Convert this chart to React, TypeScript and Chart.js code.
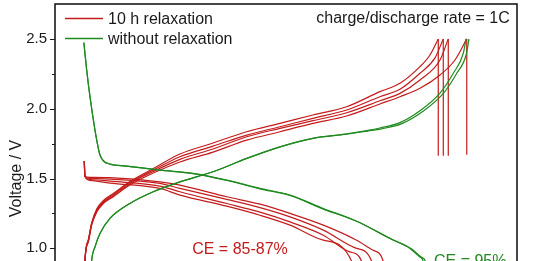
import React, { useEffect, useRef } from "react";
import { Chart, registerables } from "chart.js";

Chart.register(...registerables);

const RED = "#c41c1c";
const GREEN = "#1f8a1f";
const TEXT = "#1a1a1a";

// y axis ticks (V)
const majorTicks = [0.5, 1.0, 1.5, 2.0, 2.5];
const minorTicks = [0.75, 1.25, 1.75, 2.25];

// legend / annotations
const legendLabels = ["10 h relaxation", "without relaxation"];
const rateNote = "charge/discharge rate = 1C";
const ceRed = "CE = 85-87%";
const ceGreen = "CE = 95%";

// ---- 10 h relaxation: charge curves (capacity, voltage)
const redChgCap = [0.2, 0.57, 2.29, 4.05, 6.65, 10.08, 15.27, 23.9, 36.05, 49.9, 67.1, 84.6, 101.9, 119.0, 136.5, 153.8, 164.2, 174.6];
const redChg1End = [179.8, 184.1];
const redChg2End = [182.4, 186.7];
const redChg3End = [185.0, 189.3];
const redChg4End = [185.0, 192.8, 198.9];
const redChg1V = [0.70, 0.915, 1.058, 1.180, 1.281, 1.342, 1.392, 1.478, 1.571, 1.675, 1.754, 1.835, 1.895, 1.955, 2.014, 2.122, 2.182, 2.301, 2.385, 2.5];
const redChg2V = [0.70, 0.915, 1.058, 1.180, 1.273, 1.334, 1.385, 1.471, 1.560, 1.656, 1.732, 1.811, 1.871, 1.931, 1.991, 2.086, 2.139, 2.254, 2.364, 2.5];
const redChg3V = [0.69, 0.908, 1.051, 1.173, 1.266, 1.327, 1.377, 1.463, 1.550, 1.637, 1.711, 1.799, 1.859, 1.914, 1.971, 2.057, 2.110, 2.206, 2.349, 2.5];
const redChg4V = [0.69, 0.908, 1.044, 1.166, 1.259, 1.320, 1.370, 1.453, 1.539, 1.618, 1.689, 1.775, 1.835, 1.895, 1.948, 2.034, 2.086, 2.146, 2.242, 2.349, 2.5];

// ---- 10 h relaxation: voltage drop during rest
const relaxCap = [184.1, 186.7, 189.3, 198.9];
const relaxStartV = [2.5, 2.5, 2.5, 2.5];
const relaxEndV = [1.663, 1.663, 1.663, 1.67];

// ---- 10 h relaxation: discharge curves
const redDisCap = [0.2, 0.57, 3.17, 13.56, 39.5, 49.9, 74.2, 91.5, 107.1, 124.4];
const redDis1End = [141.7, 150.3, 155.5, 157.1, 158.1];
const redDis2End = [141.7, 149.5, 151.1, 152.1];
const redDis3End = [138.2, 144.3, 145.9, 146.9];
const redDis4End = [139.1, 140.7, 141.7];
const redDis1V = [1.625, 1.514, 1.508, 1.506, 1.476, 1.453, 1.369, 1.316, 1.250, 1.166, 1.058, 0.986, 0.907, 0.699, 0.412];
const redDis2V = [1.625, 1.514, 1.501, 1.496, 1.465, 1.429, 1.350, 1.291, 1.225, 1.130, 0.999, 0.907, 0.699, 0.412];
const redDis3V = [1.625, 1.514, 1.493, 1.481, 1.446, 1.405, 1.321, 1.259, 1.189, 1.094, 0.974, 0.907, 0.699, 0.412];
const redDis4V = [1.625, 1.514, 1.486, 1.467, 1.429, 1.381, 1.302, 1.237, 1.166, 1.058, 0.907, 0.699, 0.412];

// ---- without relaxation: discharge curves
const greenDis1Cap = [0, 1.45, 3.17, 5.77, 7.48, 8.36, 10.08, 13.56, 22.2, 39.5, 56.7, 74.2, 91.5, 107.1, 124.4, 141.7, 159.0, 169.4, 174.6, 176.3, 177.7, 178.5];
const greenDis1V = [2.473, 2.278, 2.086, 1.847, 1.718, 1.668, 1.627, 1.603, 1.589, 1.560, 1.537, 1.489, 1.429, 1.381, 1.285, 1.194, 1.070, 0.999, 0.938, 0.907, 0.699, 0.412];
const greenDis2Cap = [0, 1.45, 3.17, 5.77, 7.48, 8.36, 10.08, 13.56, 22.2, 39.5, 56.7, 74.2, 91.5, 107.1, 124.4, 142.3, 159.8, 170.3, 175.6, 177.4, 178.9, 179.7];
const greenDis2V = [2.473, 2.278, 2.086, 1.847, 1.718, 1.668, 1.627, 1.603, 1.589, 1.560, 1.535, 1.486, 1.426, 1.378, 1.281, 1.190, 1.066, 0.995, 0.934, 0.907, 0.699, 0.412];

// ---- without relaxation: charge curves
const greenChg1Cap = [2.6, 3.2, 4.05, 5.77, 8.36, 13.56, 23.9, 36.05, 49.9, 67.1, 84.6, 101.9, 119.0, 136.5, 146.9, 153.8, 164.2, 174.6, 185.0, 191.9, 197.1, 198.5];
const greenChg1V = [0.60, 0.75, 0.915, 1.010, 1.106, 1.214, 1.321, 1.405, 1.476, 1.548, 1.644, 1.727, 1.788, 1.819, 1.843, 1.862, 1.900, 1.985, 2.111, 2.254, 2.397, 2.5];
const greenChg2Cap = [2.6, 3.2, 4.05, 5.77, 8.36, 13.56, 23.9, 36.05, 49.9, 67.1, 84.6, 101.9, 119.0, 136.5, 147.4, 154.6, 165.2, 175.8, 186.4, 193.4, 198.7, 200.05];
const greenChg2V = [0.60, 0.75, 0.915, 1.010, 1.106, 1.214, 1.321, 1.405, 1.476, 1.548, 1.644, 1.727, 1.788, 1.817, 1.840, 1.856, 1.893, 1.978, 2.104, 2.247, 2.392, 2.5];

const pts = (cap: number[], v: number[]) => cap.map((x, i) => ({ x, y: v[i] }));

export default function App() {
  const ref = useRef<HTMLCanvasElement>(null);

  useEffect(() => {
    const line = (label: string, color: string, data: { x: number; y: number }[]) => ({
      label,
      data,
      borderColor: color,
      backgroundColor: color,
      borderWidth: 1.2,
      pointRadius: 0,
      fill: false,
      cubicInterpolationMode: "monotone",
    });

    const datasets: any[] = [
      line(legendLabels[1], GREEN, pts(greenDis1Cap, greenDis1V)),
      line(legendLabels[1], GREEN, pts(greenDis2Cap, greenDis2V)),
      line(legendLabels[1], GREEN, pts(greenChg1Cap, greenChg1V)),
      line(legendLabels[1], GREEN, pts(greenChg2Cap, greenChg2V)),
      line(legendLabels[0], RED, pts(redChgCap.concat(redChg1End), redChg1V)),
      line(legendLabels[0], RED, pts(redChgCap.concat(redChg2End), redChg2V)),
      line(legendLabels[0], RED, pts(redChgCap.concat(redChg3End), redChg3V)),
      line(legendLabels[0], RED, pts(redChgCap.concat(redChg4End), redChg4V)),
      line(legendLabels[0], RED, pts(redDisCap.concat(redDis1End), redDis1V)),
      line(legendLabels[0], RED, pts(redDisCap.concat(redDis2End), redDis2V)),
      line(legendLabels[0], RED, pts(redDisCap.concat(redDis3End), redDis3V)),
      line(legendLabels[0], RED, pts(redDisCap.concat(redDis4End), redDis4V)),
    ];
    relaxCap.forEach((c, i) => {
      const d: any = line(legendLabels[0], RED, [
        { x: c, y: relaxStartV[i] },
        { x: c, y: relaxEndV[i] },
      ]);
      d.cubicInterpolationMode = "default";
      d.tension = 0;
      datasets.push(d);
    });

    const decor = {
      id: "decor",
      afterDraw(chart: any) {
        const { ctx, chartArea: a, scales } = chart;
        const ys = scales.y;
        ctx.save();
        // frame
        ctx.strokeStyle = TEXT;
        ctx.lineWidth = 1.6;
        ctx.strokeRect(a.left, a.top, a.right - a.left, a.bottom - a.top);
        // tick marks (outward)
        ctx.lineWidth = 1;
        majorTicks.forEach((v) => {
          const y = Math.round(ys.getPixelForValue(v)) + 0.5;
          ctx.beginPath();
          ctx.moveTo(a.left - 5, y);
          ctx.lineTo(a.left, y);
          ctx.stroke();
        });
        minorTicks.forEach((v) => {
          const y = Math.round(ys.getPixelForValue(v)) + 0.5;
          ctx.beginPath();
          ctx.moveTo(a.left - 3, y);
          ctx.lineTo(a.left, y);
          ctx.stroke();
        });
        // legend
        ctx.font = "16px Arial, 'Liberation Sans', sans-serif";
        ctx.textBaseline = "alphabetic";
        ctx.textAlign = "left";
        const items = [
          { label: legendLabels[0], color: RED, y: 18.5, base: 24 },
          { label: legendLabels[1], color: GREEN, y: 38.5, base: 44 },
        ];
        items.forEach((it) => {
          ctx.strokeStyle = it.color;
          ctx.lineWidth = 1.3;
          ctx.beginPath();
          ctx.moveTo(65, it.y);
          ctx.lineTo(103, it.y);
          ctx.stroke();
          ctx.fillStyle = TEXT;
          ctx.fillText(it.label, 108, it.base);
        });
        // annotations
        ctx.textAlign = "center";
        ctx.fillStyle = TEXT;
        ctx.fillText(rateNote, 413, 22.5);
        ctx.fillStyle = RED;
        ctx.fillText(ceRed, 240, 253.5);
        ctx.textAlign = "left";
        ctx.fillStyle = GREEN;
        ctx.fillText(ceGreen, 434, 265.5);
        ctx.restore();
      },
    };

    const chart = new Chart(ref.current as HTMLCanvasElement, {
      type: "line",
      data: { datasets },
      options: {
        animation: false,
        responsive: false,
        parsing: false as any,
        normalized: true,
        layout: { padding: { left: 0, top: 4, right: 16, bottom: 0 } },
        plugins: { legend: { display: false }, tooltip: { enabled: false } },
        scales: {
          x: { type: "linear", min: -15, max: 225, display: false },
          y: {
            type: "linear",
            min: 0.25,
            max: 2.75,
            afterBuildTicks: (s: any) => {
              s.ticks = majorTicks.map((v) => ({ value: v }));
            },
            afterFit: (s: any) => {
              s.width = 55;
              s.paddingTop = 0;
              s.paddingBottom = 0;
            },
            grid: { display: false, drawTicks: false },
            border: { display: false },
            ticks: {
              padding: 8,
              color: TEXT,
              font: { family: "Arial, 'Liberation Sans', sans-serif", size: 15 },
              callback: (v: any) => Number(v).toFixed(1),
            },
            title: {
              display: true,
              text: "Voltage / V",
              color: TEXT,
              padding: { top: 7, bottom: 0 },
              font: { family: "Arial, 'Liberation Sans', sans-serif", size: 16 },
            },
          },
        },
      },
      plugins: [decor],
    });
    return () => chart.destroy();
  }, []);

  return (
    <div
      style={{
        position: "fixed",
        left: 0,
        top: 0,
        width: 533,
        height: 261,
        overflow: "hidden",
        background: "#fff",
      }}
    >
      <canvas ref={ref} width={533} height={353} style={{ display: "block" }} />
    </div>
  );
}
